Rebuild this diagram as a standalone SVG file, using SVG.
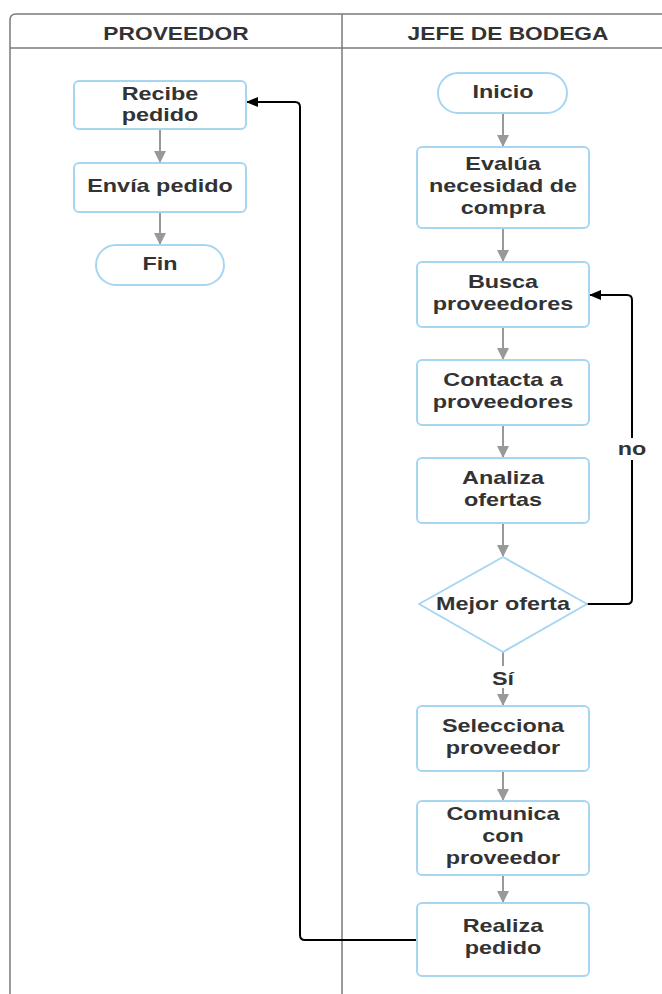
<svg xmlns="http://www.w3.org/2000/svg" width="662" height="994" viewBox="0 0 662 994">
<style>
.lane{fill:none;stroke:#7a7a7a;stroke-width:1.5}
.hd{font-family:"Liberation Sans",Arial,sans-serif;font-weight:bold;font-size:17.5px;fill:#333;text-anchor:middle}
.box{fill:#fff;stroke:#a6d6f2;stroke-width:2}
.t{font-family:"Liberation Sans",Arial,sans-serif;font-weight:bold;font-size:18px;fill:#333;text-anchor:middle}
.g{fill:none;stroke:#999;stroke-width:2}
.k{fill:none;stroke:#000;stroke-width:2}
</style>
<defs>
<marker id="ag" markerWidth="12" markerHeight="12" refX="11" refY="6" orient="auto" markerUnits="userSpaceOnUse"><path d="M0,0 L12,6 L0,12 Z" fill="#999"/></marker>
<marker id="ak" markerWidth="12" markerHeight="10" refX="11" refY="5" orient="auto" markerUnits="userSpaceOnUse"><path d="M0,0 L12,5 L0,10 Z" fill="#000"/></marker>
</defs>
<rect width="662" height="994" fill="#fff"/>
<g id="pool">
<path class="lane" d="M670,14 H16 Q10,14 10,20 V994"/>
<path class="lane" d="M10,48 H670"/>
<path class="lane" d="M342,14 V994"/>
<text class="hd" transform="translate(176 40) scale(1.3 1)">PROVEEDOR</text>
<text class="hd" transform="translate(508 40) scale(1.3 1)">JEFE DE BODEGA</text>
</g>
<g id="connectors">
<path class="g" d="M160,129 V162" marker-end="url(#ag)"/>
<path class="g" d="M160,212 V244" marker-end="url(#ag)"/>
<path class="g" d="M503,113 V146" marker-end="url(#ag)"/>
<path class="g" d="M503,228 V261" marker-end="url(#ag)"/>
<path class="g" d="M503,327 V359" marker-end="url(#ag)"/>
<path class="g" d="M503,425 V457" marker-end="url(#ag)"/>
<path class="g" d="M503,523 V556" marker-end="url(#ag)"/>
<path class="g" d="M503,652 V705" marker-end="url(#ag)"/>
<path class="g" d="M503,771 V800" marker-end="url(#ag)"/>
<path class="g" d="M503,875 V902" marker-end="url(#ag)"/>
<path class="k" d="M587,604 H627 Q632,604 632,599 V300 Q632,295 627,295 H590" marker-end="url(#ak)"/>
<path class="k" d="M417,940 H305 Q300,940 300,935 V107 Q300,102 295,102 H247" marker-end="url(#ak)"/>
<rect x="488" y="666" width="30" height="22" fill="#fff"/>
<text class="t" transform="translate(503 685) scale(1.3 1)">Sí</text>
<rect x="614" y="438" width="36" height="22" fill="#fff"/>
<text class="t" transform="translate(632 455) scale(1.3 1)">no</text>
</g>
<g id="recibe"><rect class="box" x="74" y="81" width="172" height="48" rx="5"/><text class="t" transform="translate(160 100) scale(1.3 1)">Recibe</text><text class="t" transform="translate(160 121) scale(1.3 1)">pedido</text></g>
<g id="envia"><rect class="box" x="74" y="163" width="172" height="49" rx="5"/><text class="t" transform="translate(160 192) scale(1.3 1)">Envía pedido</text></g>
<g id="fin"><rect class="box" x="96" y="245" width="128" height="40" rx="20"/><text class="t" transform="translate(160 270) scale(1.3 1)">Fin</text></g>
<g id="inicio"><rect class="box" x="438" y="73" width="129" height="40" rx="20"/><text class="t" transform="translate(503 98) scale(1.3 1)">Inicio</text></g>
<g id="evalua"><rect class="box" x="417" y="147" width="172" height="81" rx="5"/><text class="t" transform="translate(503 170) scale(1.3 1)">Evalúa</text><text class="t" transform="translate(503 192) scale(1.3 1)">necesidad de</text><text class="t" transform="translate(503 214) scale(1.3 1)">compra</text></g>
<g id="busca"><rect class="box" x="417" y="262" width="172" height="65" rx="5"/><text class="t" transform="translate(503 288) scale(1.3 1)">Busca</text><text class="t" transform="translate(503 310) scale(1.3 1)">proveedores</text></g>
<g id="contacta"><rect class="box" x="417" y="360" width="172" height="65" rx="5"/><text class="t" transform="translate(503 386) scale(1.3 1)">Contacta a</text><text class="t" transform="translate(503 408) scale(1.3 1)">proveedores</text></g>
<g id="analiza"><rect class="box" x="417" y="458" width="172" height="65" rx="5"/><text class="t" transform="translate(503 484) scale(1.3 1)">Analiza</text><text class="t" transform="translate(503 506) scale(1.3 1)">ofertas</text></g>
<g id="mejor"><path class="box" d="M503,557 L587,604 L503,652 L419,604 Z" stroke-linejoin="round"/><text class="t" transform="translate(503 610) scale(1.3 1)">Mejor oferta</text></g>
<g id="selecciona"><rect class="box" x="417" y="706" width="172" height="65" rx="5"/><text class="t" transform="translate(503 732) scale(1.3 1)">Selecciona</text><text class="t" transform="translate(503 754) scale(1.3 1)">proveedor</text></g>
<g id="comunica"><rect class="box" x="417" y="801" width="172" height="74" rx="5"/><text class="t" transform="translate(503 820) scale(1.3 1)">Comunica</text><text class="t" transform="translate(503 842) scale(1.3 1)">con</text><text class="t" transform="translate(503 864) scale(1.3 1)">proveedor</text></g>
<g id="realiza"><rect class="box" x="417" y="903" width="172" height="73" rx="5"/><text class="t" transform="translate(503 932) scale(1.3 1)">Realiza</text><text class="t" transform="translate(503 954) scale(1.3 1)">pedido</text></g>
</svg>
